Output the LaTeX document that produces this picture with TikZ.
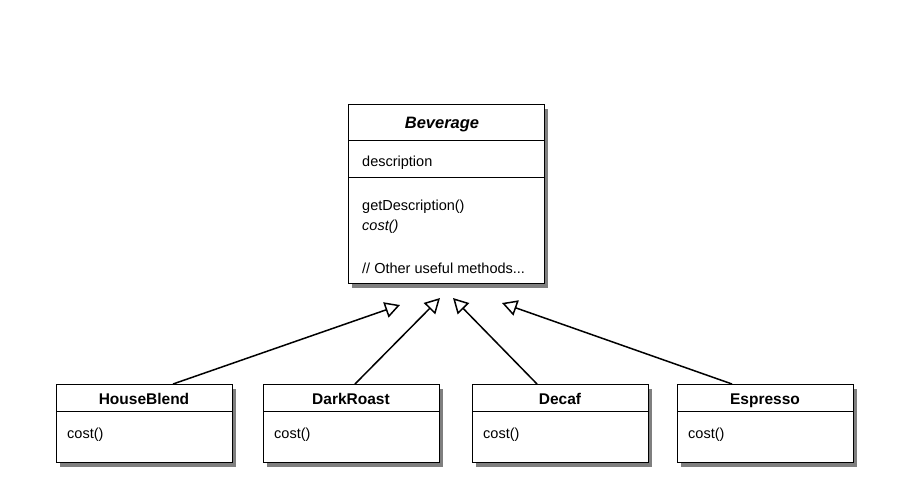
\documentclass[tikz,border=0pt]{standalone}
\usepackage{fontspec}
\setmainfont{Liberation Sans}
\usetikzlibrary{shadows,arrows.meta}
\tikzset{
  classbox/.style={draw=black, line width=1pt, fill=white, anchor=north west, inner sep=0pt,
    drop shadow={shadow xshift=3.5pt, shadow yshift=-4.5pt, fill=black, opacity=0.5}},
  sep/.style={line width=1pt},
  ttl/.style={font=\fontsize{15.5}{18}\selectfont\bfseries, inner sep=0pt, anchor=base},
  txt/.style={font=\fontsize{14.5}{17}\selectfont, anchor=base west, inner sep=0pt},
  inh/.style={line width=1.5pt, -{Triangle[open, length=15pt, width=16pt, line width=1.5pt, fill=white]}}
}
\begin{document}
\begin{tikzpicture}[x=1pt,y=1pt]
\useasboundingbox (0,0) rectangle (917,-483);
% Beverage
\node[classbox, minimum width=196pt, minimum height=179pt] (bev) at (348,-104) {};
\draw[sep] (348,-140) -- (544,-140);
\draw[sep] (348,-177) -- (544,-177);
\node[ttl, font=\fontsize{16.5}{19}\selectfont\bfseries\itshape] (bevt) at (442,-128) {Beverage};
\node[txt] (bevd) at (362,-166) {description};
\node[txt] (bevg) at (362,-210) {getDescription()};
\node[txt, font=\fontsize{14.5}{17}\selectfont\itshape] (bevc) at (362,-230) {cost()};
\node[txt] (bevo) at (362,-273) {// Other useful methods...};
% subclasses
\foreach \nm/\lbl/\xl in {hb/HouseBlend/56, dr/DarkRoast/263, dc/Decaf/472, es/Espresso/677}{
  \node[classbox, minimum width=176pt, minimum height=78pt] (\nm) at (\xl,-384) {};
  \draw[sep] (\xl,-411) -- ({\xl+176},-411);
  \node[ttl] (\nm t) at ({\xl+88},-404) {\lbl};
  \node[txt] (\nm c) at ({\xl+11},-438) {cost()};
}
% arrow tips and starts
\coordinate (t1) at (400,-305);
\coordinate (t2) at (440,-298);
\coordinate (t3) at (453,-298);
\coordinate (t4) at (502,-303);
\coordinate (s1) at (173,-384);
\coordinate (s2) at (355,-384);
\coordinate (s3) at (537,-384);
\coordinate (s4) at (732,-384);
\draw[inh] (s1) -- (t1);
\draw[inh] (s2) -- (t2);
\draw[inh] (s3) -- (t3);
\draw[inh] (s4) -- (t4);
\end{tikzpicture}
\end{document}
